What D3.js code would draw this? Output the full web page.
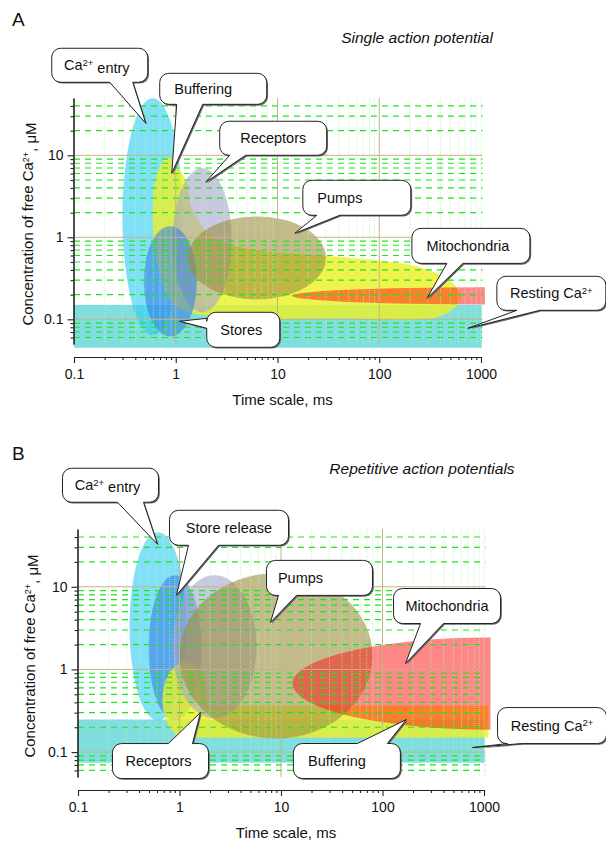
<!DOCTYPE html>
<html>
<head>
<meta charset="utf-8">
<script src="https://cdn.jsdelivr.net/npm/d3@7/dist/d3.min.js"></script>
<style>
  body { margin: 0; background: #fff; }
  svg text { font-family: "Liberation Sans", Arial, sans-serif; fill: #111; }
</style>
</head>
<body>
<div id="chart"></div>
<script>
// ---- data (time in ms, free Ca2+ in uM) ----
const xDomain = [0.1, 1000];
const yDomain = [0.05, 50];
const xMajorTicks = [0.1, 1, 10, 100, 1000];
const yMajorTicks = [0.1, 1, 10];

// regions: [t min, t max, c min, c max]
const restingA   = [0.1, 1018, 0.045, 0.15];
const entryA     = [0.30, 1.17, 0.064, 49.6];
const receptorsA = [0.934, 3.55, 0.122, 6.94];
const storesA    = [0.485, 1.61, 0.062, 1.36];
const pumpsA     = [1.31, 29.9, 0.175, 1.80];
const mitoA      = [13.8, 1090, 0.152, 0.246];   // rounded on the left, flat at the right
// buffering outline (single AP): comet shaped
const bufferingA_t = [0.834, 1.254, 1.47, 2.42, 6.7, 32.7, 268, 554, 621, 394, 32.7, 2.71, 0.98, 0.665, 0.594, 0.65];
const bufferingA_c = [9.46, 4.96, 2.13, 0.97, 0.69, 0.59, 0.42, 0.26, 0.17, 0.109, 0.103, 0.106, 0.148, 0.456, 1.85, 5.7];

const restingB    = [0.1, 1018, 0.0746, 0.248];
const entryB      = [0.322, 1.17, 0.241, 45.8];
const releaseB    = [0.495, 1.65, 0.241, 13.8];
const bufHeadB    = [0.68, 1.89, 0.15, 1.22];
const bufBandB    = [1.15, 1107, 0.15, 0.366];
const receptorsB  = [0.853, 5.74, 0.255, 13.8];
const pumpsB      = [1.0, 79.7, 0.146, 14.6];
const mitoB       = [13.0, 1159, 0.187, 2.44];

// callouts: label, pointer tip (t, c)
const calloutA_text = ["Ca2+ entry", "Buffering", "Receptors", "Pumps", "Mitochondria", "Resting Ca2+", "Stores"];
const calloutA_t = [0.507, 0.913, 1.97, 14.8, 294, 743, 1.095];
const calloutA_c = [24.6, 6.03, 4.69, 1.12, 0.180, 0.0777, 0.0946];

const calloutB_text = ["Ca2+ entry", "Store release", "Pumps", "Mitochondria", "Receptors", "Buffering", "Resting Ca2+"];
const calloutB_t = [0.607, 0.934, 7.88, 168.6, 1.61, 172, 771];
const calloutB_c = [32.7, 7.89, 3.71, 1.18, 0.301, 0.248, 0.1135];

// ---- styles / layout ----
const fills = {
  teal:     ["#2bc8c8", 0.6],
  cyan:     ["#2bcbf3", 0.6],
  yellow:   ["#eef020", 0.8],
  lavender: ["#a3a3cd", 0.6],
  blue:     ["#3a7ee8", 0.6],
  olive:    ["#9c8e3f", 0.6],
  red:      ["#ff1010", 0.5]
};

// box placement relative to the pointer tip (px): dx, dy, w, h, side, base0, base1, text shift
const boxA = [
  [-94, -75, 96, 34, "bottom", 58, 81, -3],
  [-12, -100, 107, 31, "bottom", 17, 43, -10],
  [14, -61, 107, 34, "bottom", 10, 26, 0],
  [8, -53, 108, 35, "bottom", 14, 37, -17],
  [-15, -70, 118, 35, "bottom", 35, 51, -3],
  [29, -52, 109, 34, "bottom", 20, 43, 0],
  [27, -9, 73, 35, "left", 6, 16, -2]
];
const boxB = [
  [-95, -76, 96, 34, "bottom", 55, 81, -3],
  [-7, -85, 119, 35, "bottom", 19, 49, 0],
  [-4, -62, 106, 35, "bottom", 12, 30, -19],
  [-12, -75, 107, 35, "bottom", 27, 50, 0],
  [-88, 31, 96, 35, "top", 56, 80, -2],
  [-113, 24, 107, 35, "top", 64, 94, -10],
  [25, -40, 109, 36, "bottom", 10, 24, 0]
];

const W = 606, H = 843;
const svg = d3.select("#chart").append("svg")
  .attr("width", W).attr("height", H);

function isMajor(v) {
  const l = Math.log10(v);
  return Math.abs(l - Math.round(l)) < 1e-9;
}

function calloutPath(x, y, w, h, r, side, b0, b1, tx, ty) {
  const p = d3.path();
  p.moveTo(x + r, y);
  if (side === "top") { p.lineTo(x + b0, y); p.lineTo(tx, ty); p.lineTo(x + b1, y); }
  p.lineTo(x + w - r, y);
  p.arcTo(x + w, y, x + w, y + r, r);
  p.lineTo(x + w, y + h - r);
  p.arcTo(x + w, y + h, x + w - r, y + h, r);
  if (side === "bottom") { p.lineTo(x + b1, y + h); p.lineTo(tx, ty); p.lineTo(x + b0, y + h); }
  p.lineTo(x + r, y + h);
  p.arcTo(x, y + h, x, y + h - r, r);
  if (side === "left") { p.lineTo(x, y + b1); p.lineTo(tx, ty); p.lineTo(x, y + b0); }
  p.lineTo(x, y + r);
  p.arcTo(x, y, x + r, y, r);
  p.closePath();
  return p.toString();
}

// writes "Ca2+" style labels with a superscript
function caText(sel, str, supSize) {
  const parts = str.split("2+");
  sel.append("tspan").text(parts[0]);
  if (parts.length > 1) {
    sel.append("tspan").attr("dy", "-0.45em").attr("font-size", supSize).text("2+");
    sel.append("tspan").attr("dy", "0.45em").text(parts[1]);
  }
}

function drawPanel(cfg) {
  const g = svg.append("g");
  const x = d3.scaleLog().domain(xDomain).range(cfg.xRange);
  const y = d3.scaleLog().domain(yDomain).range(cfg.yRange);

  const ellipse = (r, col) => {
    g.append("ellipse")
      .attr("cx", (x(r[0]) + x(r[1])) / 2)
      .attr("cy", (y(r[2]) + y(r[3])) / 2)
      .attr("rx", Math.abs(x(r[1]) - x(r[0])) / 2)
      .attr("ry", Math.abs(y(r[2]) - y(r[3])) / 2)
      .attr("fill", fills[col][0]).attr("fill-opacity", fills[col][1]);
  };
  const rect = (r, col, parent) => {
    (parent || g).append("rect")
      .attr("x", x(r[0])).attr("y", y(r[3]))
      .attr("width", x(r[1]) - x(r[0]))
      .attr("height", y(r[2]) - y(r[3]))
      .attr("fill", fills[col][0]).attr("fill-opacity", parent ? 1 : fills[col][1]);
  };
  // left half of an ellipse whose centre sits on the right edge
  const halfEllipse = (r, col) => {
    const cx = x(r[1]), rx = x(r[1]) - x(r[0]);
    const top = y(r[3]), bot = y(r[2]), ry = (bot - top) / 2;
    g.append("path")
      .attr("d", `M${cx},${top} A${rx},${ry} 0 0 0 ${cx},${bot} Z`)
      .attr("fill", fills[col][0]).attr("fill-opacity", fills[col][1]);
  };

  cfg.drawShapes({ x, y, g, ellipse, rect, halfEllipse });

  // ---- grid on top of the regions ----
  const [x0, x1] = cfg.xRange;
  const gx1 = x1 + 1.5;
  const [yb, yt] = cfg.yRange;
  const grid = g.append("g");
  const xt = x.ticks().filter(v => v > xDomain[0]);
  grid.selectAll(".vminor").data(xt.filter(v => !isMajor(v) || v === 1000))
    .join("line")
    .attr("x1", d => x(d)).attr("x2", d => x(d))
    .attr("y1", yt).attr("y2", yb)
    .attr("stroke", "#b4f4b4").attr("stroke-width", 0.7)
    .attr("stroke-dasharray", "1,1");
  const yt2 = y.ticks().filter(v => v > yDomain[0] && v < yDomain[1]);
  grid.selectAll(".hminor").data(yt2.filter(v => !isMajor(v)))
    .join("line")
    .attr("x1", x0).attr("x2", gx1)
    .attr("y1", d => y(d)).attr("y2", d => y(d))
    .attr("stroke", "#1ee61e").attr("stroke-width", 1.2)
    .attr("stroke-dasharray", "6,5");
  grid.selectAll(".vmajor").data([1, 10, 100])
    .join("line")
    .attr("x1", d => x(d)).attr("x2", d => x(d))
    .attr("y1", yt).attr("y2", yb)
    .attr("stroke", "#c2b585").attr("stroke-width", 1);
  grid.selectAll(".hmajor").data(yMajorTicks)
    .join("line")
    .attr("x1", x0).attr("x2", gx1)
    .attr("y1", d => y(d)).attr("y2", d => y(d))
    .attr("stroke", "#c2b585").attr("stroke-width", 1);

  // ---- axes ----
  const fmt = d3.format("~g");
  const yAxis = g.append("g").attr("transform", `translate(${cfg.yAxisX},0)`);
  yAxis.call(d3.axisLeft(y).tickValues(yMajorTicks).tickFormat(fmt).tickSize(6).tickSizeOuter(0).tickPadding(4));
  yAxis.append("g").call(d3.axisLeft(y).tickValues(yt2.filter(v => !isMajor(v)))
    .tickFormat("").tickSize(3).tickSizeOuter(0));
  const xAxis = g.append("g").attr("transform", `translate(0,${cfg.xAxisY})`);
  xAxis.call(d3.axisBottom(x).tickValues(xMajorTicks).tickFormat(fmt).tickSize(6).tickSizeOuter(0).tickPadding(6));
  xAxis.append("g").call(d3.axisBottom(x).tickValues(xt.filter(v => !isMajor(v)))
    .tickFormat("").tickSize(3).tickSizeOuter(0));
  g.selectAll(".tick text").attr("font-size", 14).attr("font-family", "Liberation Sans, Arial, sans-serif").attr("fill", "#111");
  g.selectAll(".domain, .tick line").attr("stroke", "#222").attr("stroke-width", 1.1);

  g.append("text")
    .attr("x", (x0 + x1) / 2 + 5).attr("y", cfg.xTitleY)
    .attr("text-anchor", "middle").attr("font-size", 15)
    .text("Time scale, ms");
  const yTitle = g.append("text")
    .attr("transform", `translate(${cfg.yTitleX},${(yb + yt) / 2 + 3}) rotate(-90)`)
    .attr("text-anchor", "middle").attr("font-size", 15);
  caText(yTitle, "Concentration of free Ca2+, \u03bcM", 9);

  g.append("text").attr("x", 12).attr("y", cfg.letterY)
    .attr("font-size", 19).text(cfg.letter);
  g.append("text").attr("x", cfg.titleX).attr("y", cfg.titleY)
    .attr("text-anchor", "middle").attr("font-size", 15.5).attr("font-style", "italic")
    .text(cfg.title);

  // ---- callouts ----
  cfg.texts.forEach((txt, i) => {
    const tx = x(cfg.ts[i]), ty = y(cfg.cs[i]);
    const [dx, dy, w, h, side, b0, b1, shift] = cfg.boxes[i];
    const bx = tx + dx, by = ty + dy;
    const d = calloutPath(bx, by, w, h, 9, side, b0, b1, tx, ty);
    g.append("path").attr("d", d).attr("transform", "translate(1.3,1.3)")
      .attr("fill", "#666");
    g.append("path").attr("d", d)
      .attr("fill", "#fff").attr("stroke", "#222").attr("stroke-width", 1);
    const t = g.append("text")
      .attr("x", bx + w / 2 + shift).attr("y", by + h / 2 + 5)
      .attr("text-anchor", "middle").attr("font-size", 14.5);
    caText(t, txt, 9.5);
  });
}

drawPanel({
  xRange: [74, 481], yRange: [344, 98],
  yAxisX: 73.5, xAxisY: 357, xTitleY: 405, yTitleX: 33,
  letter: "A", letterY: 26, title: "Single action potential", titleX: 417, titleY: 43,
  texts: calloutA_text, ts: calloutA_t, cs: calloutA_c, boxes: boxA,
  drawShapes: ({ x, y, g, ellipse, rect, halfEllipse }) => {
    rect(restingA, "teal");
    ellipse(entryA, "cyan");
    g.append("path")
      .attr("d", d3.line().x(d => x(d[0])).y(d => y(d[1]))
        .curve(d3.curveCatmullRomClosed.alpha(0.5))(d3.zip(bufferingA_t, bufferingA_c)))
      .attr("fill", fills.yellow[0]).attr("fill-opacity", fills.yellow[1]);
    ellipse(receptorsA, "lavender");
    ellipse(storesA, "blue");
    ellipse(pumpsA, "olive");
    halfEllipse(mitoA, "red");
  }
});

drawPanel({
  xRange: [78, 484], yRange: [777, 529],
  yAxisX: 77.5, xAxisY: 790, xTitleY: 838, yTitleX: 35,
  letter: "B", letterY: 460, title: "Repetitive action potentials", titleX: 422, titleY: 474,
  texts: calloutB_text, ts: calloutB_t, cs: calloutB_c, boxes: boxB,
  drawShapes: ({ x, y, g, ellipse, rect, halfEllipse }) => {
    rect(restingB, "teal");
    ellipse(entryB, "cyan");
    ellipse(releaseB, "blue");
    // buffering: rounded head + long band, merged with one group opacity
    const buf = g.append("g").attr("opacity", fills.yellow[1]);
    buf.append("ellipse")
      .attr("cx", (x(bufHeadB[0]) + x(bufHeadB[1])) / 2)
      .attr("cy", (y(bufHeadB[2]) + y(bufHeadB[3])) / 2)
      .attr("rx", (x(bufHeadB[1]) - x(bufHeadB[0])) / 2)
      .attr("ry", (y(bufHeadB[2]) - y(bufHeadB[3])) / 2)
      .attr("fill", fills.yellow[0]);
    rect(bufBandB, "yellow", buf);
    ellipse(receptorsB, "lavender");
    ellipse(pumpsB, "olive");
    halfEllipse(mitoB, "red");
  }
});
</script>
</body>
</html>
